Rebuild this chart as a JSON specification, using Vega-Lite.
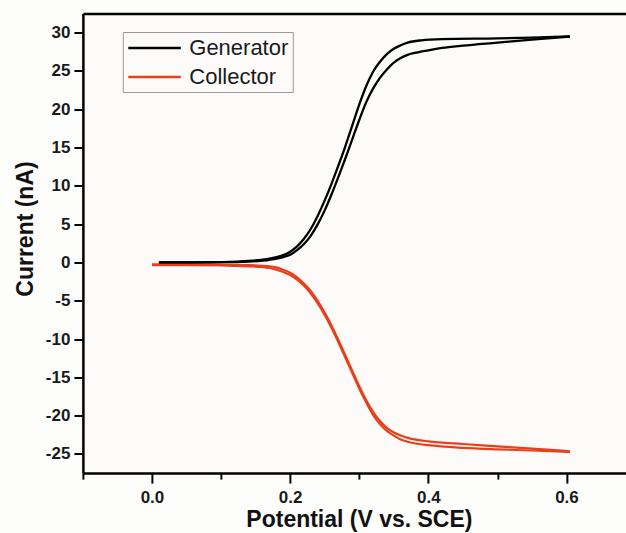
{
  "$schema": "https://vega.github.io/schema/vega-lite/v6.json",
  "width": 543,
  "height": 459.6,
  "autosize": {"type": "none"},
  "padding": {"left": 82.9, "top": 13.5, "right": 0, "bottom": 60},
  "background": "#fdfdfc",
  "config": {"view": {"stroke": null, "fill": "#fcfbfa"}, "font": "Liberation Sans"},
  "datasets": {
    "cv": [
      {"electrode": "Generator", "branch": "gL", "V": 0.01, "I": 0.0},
      {"electrode": "Generator", "branch": "gL", "V": 0.05, "I": 0.0},
      {"electrode": "Generator", "branch": "gL", "V": 0.10, "I": 0.05},
      {"electrode": "Generator", "branch": "gL", "V": 0.14, "I": 0.2},
      {"electrode": "Generator", "branch": "gL", "V": 0.17, "I": 0.5},
      {"electrode": "Generator", "branch": "gL", "V": 0.19, "I": 0.95},
      {"electrode": "Generator", "branch": "gL", "V": 0.20, "I": 1.4},
      {"electrode": "Generator", "branch": "gL", "V": 0.21, "I": 2.1},
      {"electrode": "Generator", "branch": "gL", "V": 0.22, "I": 3.1},
      {"electrode": "Generator", "branch": "gL", "V": 0.23, "I": 4.4},
      {"electrode": "Generator", "branch": "gL", "V": 0.24, "I": 6.1},
      {"electrode": "Generator", "branch": "gL", "V": 0.25, "I": 8.1},
      {"electrode": "Generator", "branch": "gL", "V": 0.26, "I": 10.3},
      {"electrode": "Generator", "branch": "gL", "V": 0.27, "I": 12.7},
      {"electrode": "Generator", "branch": "gL", "V": 0.28, "I": 15.2},
      {"electrode": "Generator", "branch": "gL", "V": 0.29, "I": 17.9},
      {"electrode": "Generator", "branch": "gL", "V": 0.30, "I": 20.6},
      {"electrode": "Generator", "branch": "gL", "V": 0.31, "I": 23.0},
      {"electrode": "Generator", "branch": "gL", "V": 0.32, "I": 24.9},
      {"electrode": "Generator", "branch": "gL", "V": 0.33, "I": 26.2},
      {"electrode": "Generator", "branch": "gL", "V": 0.34, "I": 27.2},
      {"electrode": "Generator", "branch": "gL", "V": 0.35, "I": 27.9},
      {"electrode": "Generator", "branch": "gL", "V": 0.36, "I": 28.35},
      {"electrode": "Generator", "branch": "gL", "V": 0.37, "I": 28.7},
      {"electrode": "Generator", "branch": "gL", "V": 0.39, "I": 29.0},
      {"electrode": "Generator", "branch": "gL", "V": 0.42, "I": 29.15},
      {"electrode": "Generator", "branch": "gL", "V": 0.50, "I": 29.25},
      {"electrode": "Generator", "branch": "gL", "V": 0.55, "I": 29.35},
      {"electrode": "Generator", "branch": "gL", "V": 0.605, "I": 29.5},
      {"electrode": "Generator", "branch": "gR", "V": 0.01, "I": 0.0},
      {"electrode": "Generator", "branch": "gR", "V": 0.05, "I": 0.0},
      {"electrode": "Generator", "branch": "gR", "V": 0.10, "I": 0.03},
      {"electrode": "Generator", "branch": "gR", "V": 0.14, "I": 0.12},
      {"electrode": "Generator", "branch": "gR", "V": 0.17, "I": 0.35},
      {"electrode": "Generator", "branch": "gR", "V": 0.19, "I": 0.7},
      {"electrode": "Generator", "branch": "gR", "V": 0.20, "I": 1.0},
      {"electrode": "Generator", "branch": "gR", "V": 0.21, "I": 1.6},
      {"electrode": "Generator", "branch": "gR", "V": 0.22, "I": 2.4},
      {"electrode": "Generator", "branch": "gR", "V": 0.23, "I": 3.5},
      {"electrode": "Generator", "branch": "gR", "V": 0.24, "I": 5.0},
      {"electrode": "Generator", "branch": "gR", "V": 0.25, "I": 6.8},
      {"electrode": "Generator", "branch": "gR", "V": 0.26, "I": 8.9},
      {"electrode": "Generator", "branch": "gR", "V": 0.27, "I": 11.2},
      {"electrode": "Generator", "branch": "gR", "V": 0.28, "I": 13.6},
      {"electrode": "Generator", "branch": "gR", "V": 0.29, "I": 16.1},
      {"electrode": "Generator", "branch": "gR", "V": 0.30, "I": 18.6},
      {"electrode": "Generator", "branch": "gR", "V": 0.31, "I": 20.9},
      {"electrode": "Generator", "branch": "gR", "V": 0.32, "I": 22.7},
      {"electrode": "Generator", "branch": "gR", "V": 0.33, "I": 24.1},
      {"electrode": "Generator", "branch": "gR", "V": 0.34, "I": 25.2},
      {"electrode": "Generator", "branch": "gR", "V": 0.35, "I": 26.1},
      {"electrode": "Generator", "branch": "gR", "V": 0.36, "I": 26.7},
      {"electrode": "Generator", "branch": "gR", "V": 0.37, "I": 27.1},
      {"electrode": "Generator", "branch": "gR", "V": 0.38, "I": 27.35},
      {"electrode": "Generator", "branch": "gR", "V": 0.40, "I": 27.7},
      {"electrode": "Generator", "branch": "gR", "V": 0.42, "I": 28.0},
      {"electrode": "Generator", "branch": "gR", "V": 0.45, "I": 28.3},
      {"electrode": "Generator", "branch": "gR", "V": 0.50, "I": 28.7},
      {"electrode": "Generator", "branch": "gR", "V": 0.55, "I": 29.1},
      {"electrode": "Generator", "branch": "gR", "V": 0.605, "I": 29.5},
      {"electrode": "Collector", "branch": "cA", "V": 0.00, "I": -0.25},
      {"electrode": "Collector", "branch": "cA", "V": 0.05, "I": -0.25},
      {"electrode": "Collector", "branch": "cA", "V": 0.10, "I": -0.3},
      {"electrode": "Collector", "branch": "cA", "V": 0.14, "I": -0.35},
      {"electrode": "Collector", "branch": "cA", "V": 0.17, "I": -0.5},
      {"electrode": "Collector", "branch": "cA", "V": 0.18, "I": -0.65},
      {"electrode": "Collector", "branch": "cA", "V": 0.19, "I": -0.95},
      {"electrode": "Collector", "branch": "cA", "V": 0.20, "I": -1.35},
      {"electrode": "Collector", "branch": "cA", "V": 0.21, "I": -1.95},
      {"electrode": "Collector", "branch": "cA", "V": 0.22, "I": -2.75},
      {"electrode": "Collector", "branch": "cA", "V": 0.23, "I": -3.75},
      {"electrode": "Collector", "branch": "cA", "V": 0.24, "I": -5.05},
      {"electrode": "Collector", "branch": "cA", "V": 0.25, "I": -6.55},
      {"electrode": "Collector", "branch": "cA", "V": 0.26, "I": -8.25},
      {"electrode": "Collector", "branch": "cA", "V": 0.27, "I": -10.15},
      {"electrode": "Collector", "branch": "cA", "V": 0.28, "I": -12.15},
      {"electrode": "Collector", "branch": "cA", "V": 0.29, "I": -14.15},
      {"electrode": "Collector", "branch": "cA", "V": 0.30, "I": -16.15},
      {"electrode": "Collector", "branch": "cA", "V": 0.31, "I": -17.95},
      {"electrode": "Collector", "branch": "cA", "V": 0.32, "I": -19.5},
      {"electrode": "Collector", "branch": "cA", "V": 0.33, "I": -20.7},
      {"electrode": "Collector", "branch": "cA", "V": 0.34, "I": -21.6},
      {"electrode": "Collector", "branch": "cA", "V": 0.35, "I": -22.2},
      {"electrode": "Collector", "branch": "cA", "V": 0.36, "I": -22.6},
      {"electrode": "Collector", "branch": "cA", "V": 0.37, "I": -22.9},
      {"electrode": "Collector", "branch": "cA", "V": 0.38, "I": -23.1},
      {"electrode": "Collector", "branch": "cA", "V": 0.40, "I": -23.35},
      {"electrode": "Collector", "branch": "cA", "V": 0.45, "I": -23.7},
      {"electrode": "Collector", "branch": "cA", "V": 0.50, "I": -24.0},
      {"electrode": "Collector", "branch": "cA", "V": 0.55, "I": -24.3},
      {"electrode": "Collector", "branch": "cA", "V": 0.605, "I": -24.65},
      {"electrode": "Collector", "branch": "cB", "V": 0.00, "I": -0.35},
      {"electrode": "Collector", "branch": "cB", "V": 0.05, "I": -0.35},
      {"electrode": "Collector", "branch": "cB", "V": 0.10, "I": -0.4},
      {"electrode": "Collector", "branch": "cB", "V": 0.14, "I": -0.5},
      {"electrode": "Collector", "branch": "cB", "V": 0.17, "I": -0.7},
      {"electrode": "Collector", "branch": "cB", "V": 0.18, "I": -0.95},
      {"electrode": "Collector", "branch": "cB", "V": 0.19, "I": -1.25},
      {"electrode": "Collector", "branch": "cB", "V": 0.20, "I": -1.65},
      {"electrode": "Collector", "branch": "cB", "V": 0.21, "I": -2.25},
      {"electrode": "Collector", "branch": "cB", "V": 0.22, "I": -3.05},
      {"electrode": "Collector", "branch": "cB", "V": 0.23, "I": -4.05},
      {"electrode": "Collector", "branch": "cB", "V": 0.24, "I": -5.35},
      {"electrode": "Collector", "branch": "cB", "V": 0.25, "I": -6.85},
      {"electrode": "Collector", "branch": "cB", "V": 0.26, "I": -8.55},
      {"electrode": "Collector", "branch": "cB", "V": 0.27, "I": -10.45},
      {"electrode": "Collector", "branch": "cB", "V": 0.28, "I": -12.45},
      {"electrode": "Collector", "branch": "cB", "V": 0.29, "I": -14.45},
      {"electrode": "Collector", "branch": "cB", "V": 0.30, "I": -16.45},
      {"electrode": "Collector", "branch": "cB", "V": 0.31, "I": -18.25},
      {"electrode": "Collector", "branch": "cB", "V": 0.32, "I": -19.9},
      {"electrode": "Collector", "branch": "cB", "V": 0.33, "I": -21.1},
      {"electrode": "Collector", "branch": "cB", "V": 0.34, "I": -22.0},
      {"electrode": "Collector", "branch": "cB", "V": 0.35, "I": -22.6},
      {"electrode": "Collector", "branch": "cB", "V": 0.36, "I": -23.1},
      {"electrode": "Collector", "branch": "cB", "V": 0.37, "I": -23.4},
      {"electrode": "Collector", "branch": "cB", "V": 0.38, "I": -23.6},
      {"electrode": "Collector", "branch": "cB", "V": 0.40, "I": -23.85},
      {"electrode": "Collector", "branch": "cB", "V": 0.45, "I": -24.2},
      {"electrode": "Collector", "branch": "cB", "V": 0.50, "I": -24.4},
      {"electrode": "Collector", "branch": "cB", "V": 0.55, "I": -24.55},
      {"electrode": "Collector", "branch": "cB", "V": 0.605, "I": -24.75}
    ]
  },
  "data": {"name": "cv"},
  "layer": [
    {
      "transform": [{"filter": "datum.electrode === 'Collector'"}],
      "mark": {"type": "line", "strokeWidth": 2.2, "interpolate": "monotone"},
      "encoding": {
        "x": {"field": "V", "type": "quantitative",
          "scale": {"domain": [-0.1, 0.686], "nice": false, "zero": false},
          "axis": {"orient": "top", "labels": false, "ticks": false, "title": null, "grid": false, "domainWidth": 2.5, "domainColor": "#000000"}},
        "y": {"field": "I", "type": "quantitative",
          "scale": {"domain": [-27.5, 32.5], "nice": false, "zero": false},
          "axis": {"title": "Current (nA)", "grid": false,
            "values": [-25, -22.5, -20, -17.5, -15, -12.5, -10, -7.5, -5, -2.5, 0, 2.5, 5, 7.5, 10, 12.5, 15, 17.5, 20, 22.5, 25, 27.5, 30],
            "labelExpr": "datum.value % 5 == 0 ? '' + datum.value : ''",
            "tickSize": {"condition": {"test": "datum.value % 5 == 0", "value": 9}, "value": 5},
            "tickWidth": 2, "tickColor": "#000000", "domainWidth": 2.5, "domainColor": "#000000",
            "labelFont": "Liberation Sans", "labelFontWeight": "bold", "labelFontSize": 17, "labelColor": "#1a1a1a", "labelPadding": 4,
            "titleFont": "Liberation Sans", "titleFontWeight": "bold", "titleFontSize": 23, "titleColor": "#111111", "titlePadding": 8, "titleY": 215}},
        "color": {"field": "electrode", "type": "nominal",
          "scale": {"domain": ["Generator", "Collector"], "range": ["#000000", "#e8401c"]},
          "legend": {"title": null, "orient": "none", "legendX": 39.9, "legendY": 18.5, "symbolType": "M-1,0H4", "symbolSize": 441, "symbolStrokeWidth": 2.3,
            "labelFont": "Liberation Sans", "labelFontSize": 22, "labelColor": "#1a1a1a", "labelOffset": 38.5, "strokeColor": "#999999", "padding": 4, "rowPadding": 6, "fillColor": "#fcfbfa"}},
        "detail": {"field": "branch"}
      }
    },
    {
      "transform": [{"filter": "datum.electrode === 'Generator'"}],
      "mark": {"type": "line", "strokeWidth": 2.3, "interpolate": "monotone"},
      "encoding": {
        "x": {"field": "V", "type": "quantitative",
          "scale": {"domain": [-0.1, 0.686], "nice": false, "zero": false},
          "axis": {"title": "Potential (V vs. SCE)", "grid": false,
            "values": [-0.1, 0, 0.1, 0.2, 0.3, 0.4, 0.5, 0.6],
            "labelExpr": "abs(round(datum.value*10)) % 2 == 0 ? format(datum.value, '.1f') : ''",
            "tickSize": {"condition": {"test": "abs(round(datum.value*10)) % 2 == 0", "value": 10}, "value": 6},
            "tickWidth": 2, "tickColor": "#000000", "domainWidth": 2.5, "domainColor": "#000000",
            "labelFont": "Liberation Sans", "labelFontWeight": "bold", "labelFontSize": 17, "labelColor": "#1a1a1a", "labelPadding": 6,
            "titleFont": "Liberation Sans", "titleFontWeight": "bold", "titleFontSize": 23, "titleColor": "#111111", "titlePadding": 3, "titleX": 276}},
        "y": {"field": "I", "type": "quantitative",
          "scale": {"domain": [-27.5, 32.5], "nice": false, "zero": false}},
        "color": {"field": "electrode", "type": "nominal",
          "scale": {"domain": ["Generator", "Collector"], "range": ["#000000", "#e8401c"]}},
        "detail": {"field": "branch"}
      }
    }
  ],
  "resolve": {"axis": {"x": "independent"}}
}
